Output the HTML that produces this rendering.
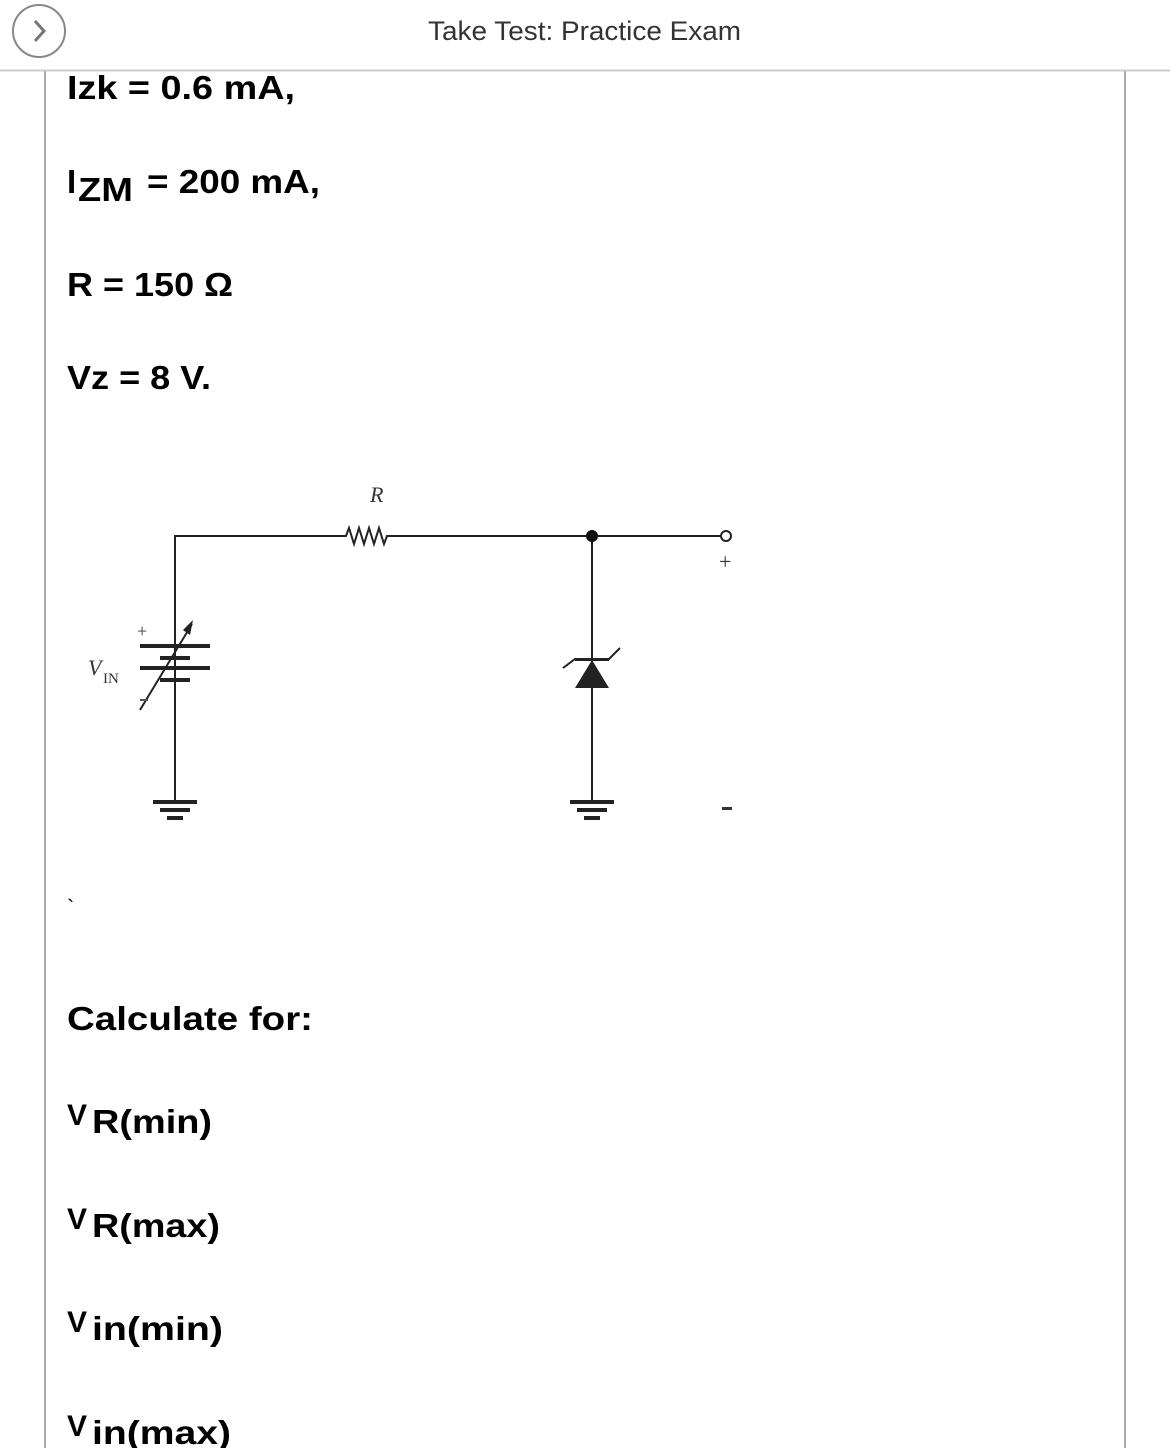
<!DOCTYPE html>
<html><head><meta charset="utf-8"><style>
html,body{margin:0;padding:0;background:#fff;}
svg{display:block;}
</style></head><body>
<svg width="1170" height="1448" viewBox="0 0 1170 1448" xmlns="http://www.w3.org/2000/svg">
<circle cx="39" cy="31" r="26" fill="none" stroke="#888" stroke-width="2"/>
<polyline points="35,21 44,31 35,41" fill="none" stroke="#777" stroke-width="3"/>
<text x="428" y="40" textLength="313" lengthAdjust="spacingAndGlyphs" font-family="Liberation Sans, sans-serif" font-size="27" fill="#333">Take Test: Practice Exam</text>
<line x1="0" y1="70.5" x2="1170" y2="70.5" stroke="#ccc" stroke-width="2"/>
<line x1="45" y1="71" x2="45" y2="1448" stroke="#aaa" stroke-width="2"/>
<line x1="1125" y1="71" x2="1125" y2="1448" stroke="#aaa" stroke-width="2"/>
<g font-family="Liberation Sans, sans-serif" font-weight="bold" fill="#000" lengthAdjust="spacingAndGlyphs">
<text x="67" y="99" font-size="33" textLength="228" lengthAdjust="spacingAndGlyphs">Izk = 0.6 mA,</text>
<text x="67" y="193" font-size="33">I</text>
<text x="78" y="201" font-size="33" textLength="55" lengthAdjust="spacingAndGlyphs">ZM</text>
<text x="147" y="193" font-size="33" textLength="173" lengthAdjust="spacingAndGlyphs">= 200 mA,</text>
<text x="67" y="296" font-size="33" textLength="166" lengthAdjust="spacingAndGlyphs">R = 150 Ω</text>
<text x="67" y="389" font-size="33" textLength="144" lengthAdjust="spacingAndGlyphs">Vz = 8 V.</text>
<text x="67" y="1030" font-size="33" textLength="246" lengthAdjust="spacingAndGlyphs">Calculate for:</text>
<text x="67" y="1125" font-size="30">V</text><text x="92" y="1133" font-size="33" textLength="120" lengthAdjust="spacingAndGlyphs">R(min)</text>
<text x="67" y="1229" font-size="30">V</text><text x="92" y="1237" font-size="33" textLength="128" lengthAdjust="spacingAndGlyphs">R(max)</text>
<text x="67" y="1332" font-size="30">V</text><text x="92" y="1340" font-size="33" textLength="131" lengthAdjust="spacingAndGlyphs">in(min)</text>
<text x="67" y="1436" font-size="30">V</text><text x="92" y="1444" font-size="33" textLength="139" lengthAdjust="spacingAndGlyphs">in(max)</text>
</g>
<text x="67" y="915" font-size="22" font-family="Liberation Sans, sans-serif">`</text>
<g stroke="#222" stroke-width="2" fill="none">
<polyline points="175,800 175,536 346,536 349,528 354,544 359,528 364,544 369,528 374,544 379,528 384,544 387,536 720,536"/>
<circle cx="726" cy="536" r="5" fill="#fff"/>
<line x1="592" y1="536" x2="592" y2="800"/>
<line x1="140" y1="710" x2="192" y2="624"/>
</g>
<polygon points="193,620 183,630 190,635" fill="#222"/>
<circle cx="592" cy="536" r="6" fill="#111"/>
<g fill="#222">
<rect x="140" y="644" width="70" height="4"/>
<rect x="160" y="656" width="30" height="4"/>
<rect x="140" y="666" width="70" height="4"/>
<rect x="160" y="678" width="30" height="4"/>
<polygon points="575,688 609,688 592,660"/>
<rect x="575" y="658" width="34" height="3"/>
<rect x="153" y="800" width="44" height="4"/><rect x="160" y="808" width="30" height="4"/><rect x="167" y="816" width="16" height="4"/>
<rect x="570" y="800" width="44" height="4"/><rect x="577" y="808" width="30" height="4"/><rect x="584" y="816" width="16" height="4"/>
</g>
<polyline points="563,668 575,659 609,659 620,648" fill="none" stroke="#222" stroke-width="2"/>
<g font-family="Liberation Serif, serif" fill="#333">
<text x="370" y="502" font-size="22" font-style="italic">R</text>
<text x="88" y="675" font-size="22" font-style="italic">V</text><text x="103" y="683" font-size="15">IN</text>
<text x="137" y="637" font-size="18">+</text>
<text x="719" y="569" font-size="22">+</text>
</g>
<rect x="140" y="699" width="8" height="2" fill="#555"/>
<rect x="722" y="807" width="10" height="3" fill="#333"/>
</svg>
</body></html>
